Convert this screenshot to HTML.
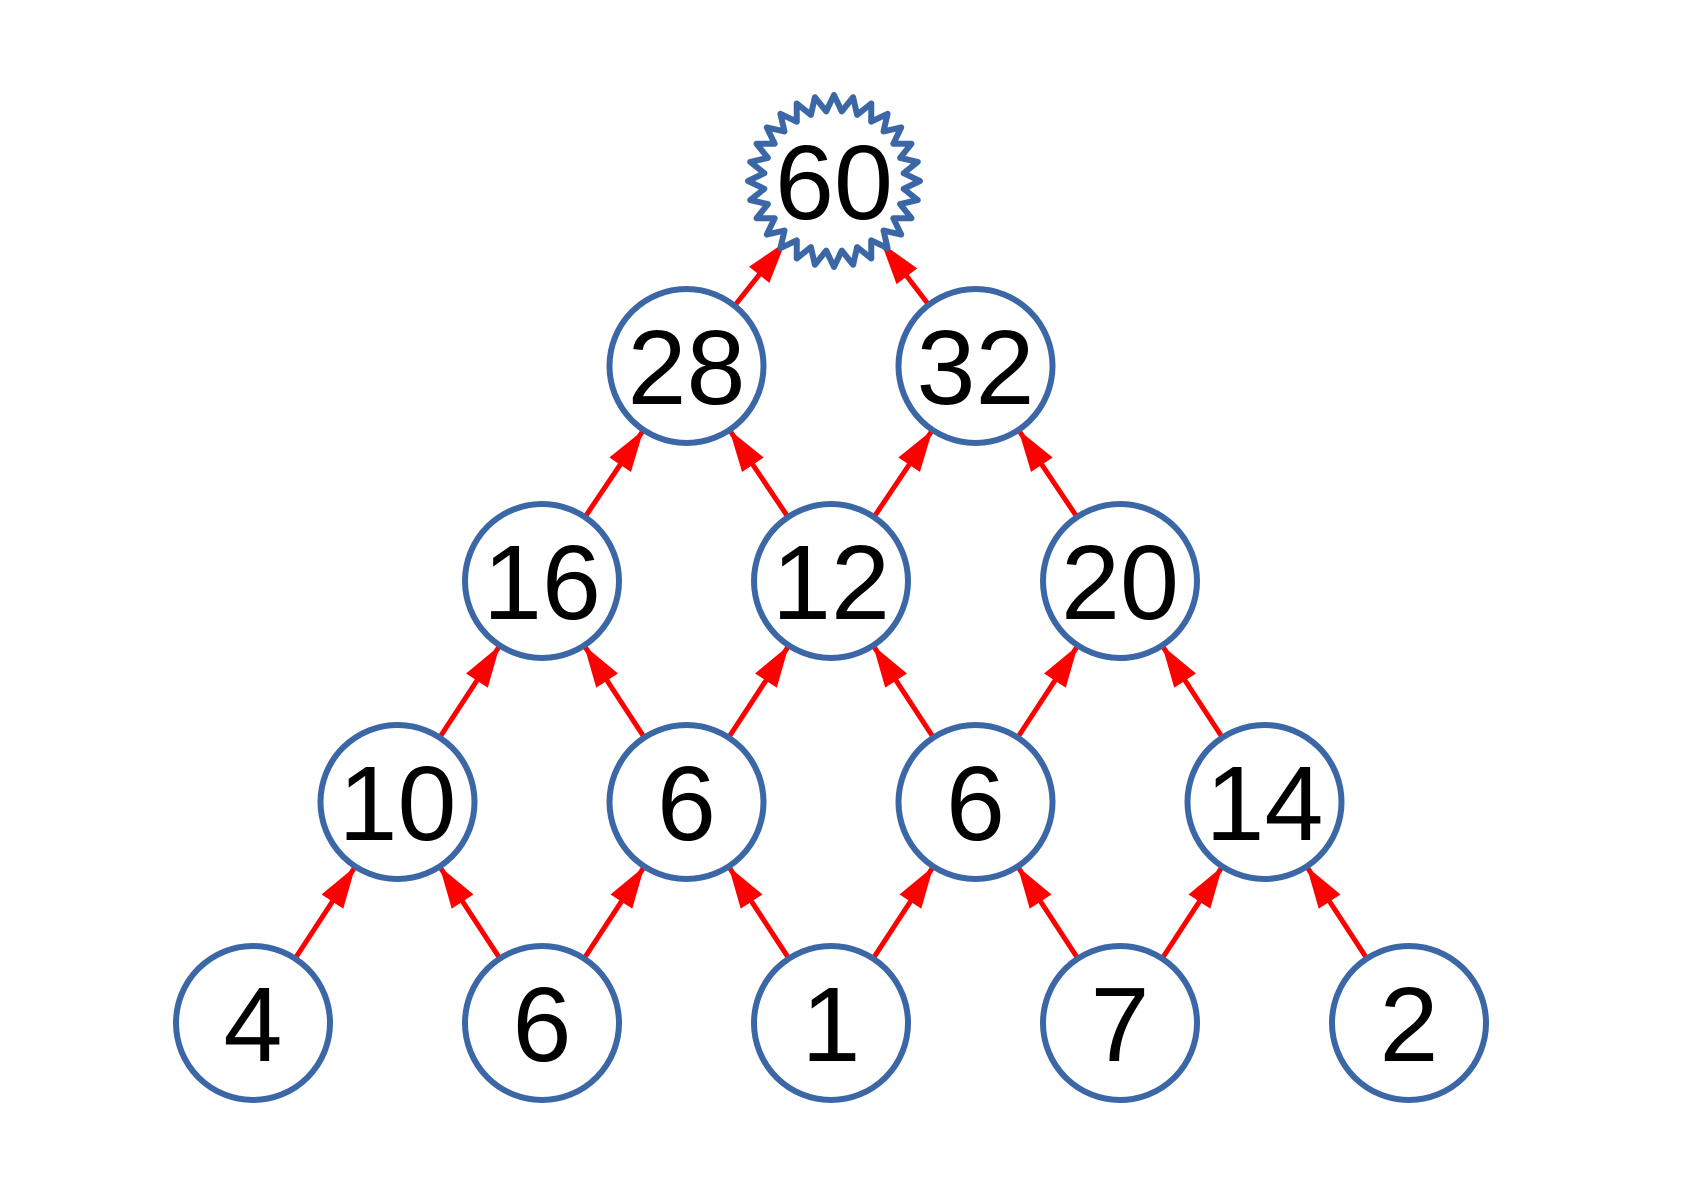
<!DOCTYPE html>
<html><head><meta charset="utf-8"><style>html,body{margin:0;padding:0;background:#fff}svg{display:block}</style></head>
<body>
<svg id="s" width="1684" height="1191" viewBox="0 0 1684 1191" xmlns="http://www.w3.org/2000/svg">
<defs>
<marker id="a" markerUnits="userSpaceOnUse" markerWidth="44" markerHeight="34" refX="42" refY="17" orient="auto">
<path d="M0,4 L42,17 L0,30 Z" fill="#ff0000"/>
</marker>
</defs>
<g id="arrows" stroke="#ff0000" stroke-width="5" fill="none"></g>
<g id="nodes" fill="#fff" stroke="#3b67a6" stroke-width="6"></g>
<g id="labels" font-family="Liberation Sans, sans-serif" font-size="106" text-anchor="middle" fill="#000"></g>
</svg>
<script>
const X=k=>253+144.5*k;
const rows=[{y:1023,v:[4,6,1,7,2],o:0},{y:802,v:[10,6,6,14],o:1},{y:581,v:[16,12,20],o:2},{y:366,v:[28,32],o:3}];
const ns="http://www.w3.org/2000/svg";
const A=document.getElementById('arrows'),N=document.getElementById('nodes'),L=document.getElementById('labels');
const R=77;
function el(p,t,at,txt){const e=document.createElementNS(ns,t);for(const k in at)e.setAttribute(k,at[k]);if(txt!==undefined)e.textContent=txt;p.appendChild(e);}
function arrow(x1,y1,x2,y2,r1,r2){const dx=x2-x1,dy=y2-y1,d=Math.hypot(dx,dy),ux=dx/d,uy=dy/d;
el(A,'line',{x1:x1+ux*r1,y1:y1+uy*r1,x2:x2-ux*r2,y2:y2-uy*r2,'marker-end':'url(#a)'});}
for(let r=0;r<rows.length-1;r++){const a=rows[r],b=rows[r+1];
a.v.forEach((_,i)=>{const x=X(a.o+2*i);
if(i<b.v.length)arrow(x,a.y,X(b.o+2*i),b.y,R,R);
if(i>0)arrow(x,a.y,X(b.o+2*(i-1)),b.y,R,R);});}
const sx=834,sy=181;
arrow(X(3),366,sx,sy,R,78);arrow(X(5),366,sx,sy,R,78);
rows.forEach(a=>a.v.forEach((v,i)=>{const x=X(a.o+2*i);el(N,'circle',{cx:x,cy:a.y,r:R});el(L,'text',{x:x,y:a.y+38},String(v));}));
let pts=[];const n=28;for(let i=0;i<2*n;i++){const ang=-Math.PI/2+i*Math.PI/n;const rr=i%2?70:86;pts.push((sx+rr*Math.cos(ang)).toFixed(1)+','+(sy+rr*Math.sin(ang)).toFixed(1));}
el(N,'polygon',{points:pts.join(' '),'stroke-linejoin':'round'});
el(L,'text',{x:sx,y:sy+38},'60');
</script>
</body></html>
